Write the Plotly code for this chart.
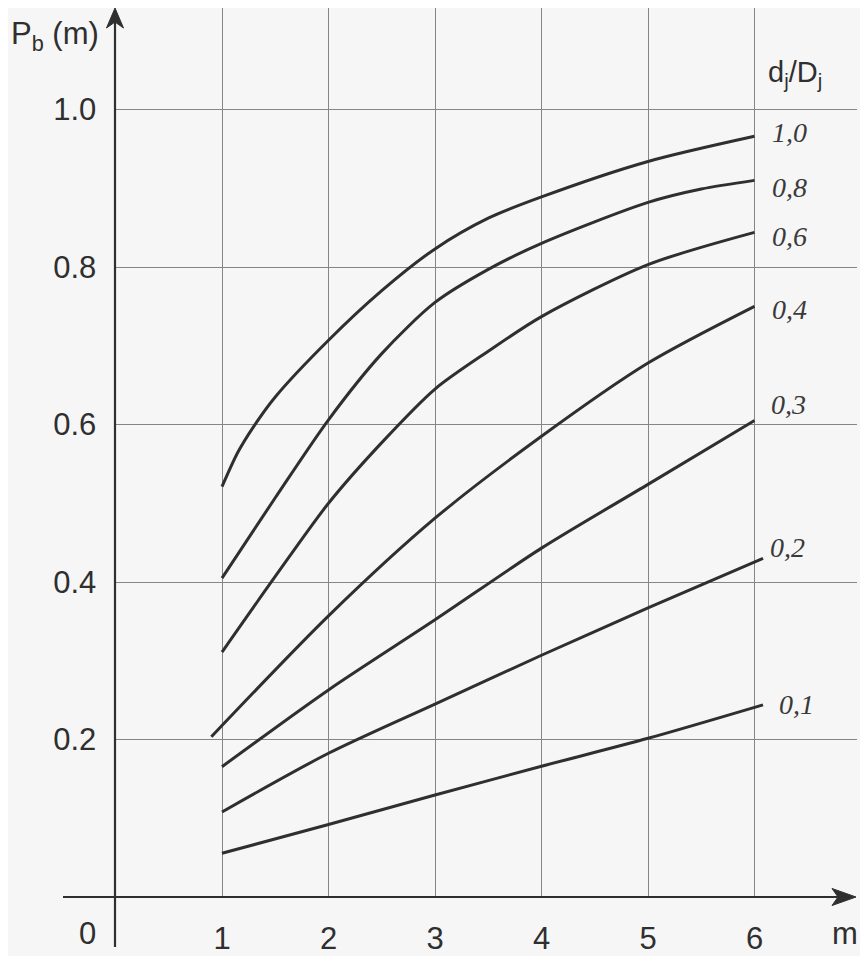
import plotly.graph_objects as go

# ---------------- data ----------------
ratio_labels = ["1,0", "0,8", "0,6", "0,4", "0,3", "0,2", "0,1"]

m_10 = [1.0, 1.15, 1.3, 1.5, 2.0, 2.5, 3.0, 3.5, 4.0, 5.0, 6.0]
p_10 = [0.521, 0.565, 0.598, 0.635, 0.707, 0.770, 0.823, 0.862, 0.889, 0.934, 0.966]

m_08 = [1.0, 1.5, 2.0, 2.5, 3.0, 3.5, 4.0, 5.0, 5.5, 6.0]
p_08 = [0.405, 0.507, 0.606, 0.690, 0.755, 0.797, 0.830, 0.882, 0.899, 0.910]

m_06 = [1.0, 1.5, 2.0, 2.5, 3.0, 3.5, 4.0, 5.0, 6.0]
p_06 = [0.311, 0.407, 0.500, 0.577, 0.645, 0.693, 0.737, 0.803, 0.844]

m_04 = [0.9, 2.0, 3.0, 4.0, 5.0, 6.0]
p_04 = [0.2035, 0.357, 0.481, 0.585, 0.678, 0.750]

m_03 = [1.0, 2.0, 3.0, 4.0, 5.0, 6.0]
p_03 = [0.1655, 0.263, 0.352, 0.443, 0.524, 0.605]

m_02 = [1.0, 2.0, 3.0, 4.0, 5.0, 6.08]
p_02 = [0.108, 0.1825, 0.245, 0.307, 0.367, 0.430]

m_01 = [1.0, 2.0, 3.0, 4.0, 5.0, 6.08]
p_01 = [0.0555, 0.092, 0.1295, 0.166, 0.2015, 0.244]

x_ticks = [1, 2, 3, 4, 5, 6]
y_ticks = [0.2, 0.4, 0.6, 0.8, 1.0]
y_tick_text = ["0.2", "0.4", "0.6", "0.8", "1.0"]

series = [(m_10, p_10), (m_08, p_08), (m_06, p_06), (m_04, p_04),
          (m_03, p_03), (m_02, p_02), (m_01, p_01)]

# ---------------- styling / geometry ----------------
OFF = 8                            # page body margin
W, H = 868 - OFF, 956 - OFF
X0_PX, X_UNIT = 115.5, 106.5       # page pixel of m=0, pixels per unit
Y0_PX, Y_UNIT = 897.0, 787.5       # page pixel of P=0, pixels per unit
X_RIGHT_PX = 857.0
INK = "#2f2f2f"
GRID = "#858585"
BG = "#f6f6f6"
SANS = "Liberation Sans, Arial, sans-serif"
SERIF = "Liberation Serif, Times New Roman, serif"

def px(x):
    return (x - OFF) / W

def py(y):
    return (H - (y - OFF)) / H

fig = go.Figure()
for (mx, pv), lab in zip(series, ratio_labels):
    fig.add_trace(go.Scatter(x=mx, y=pv, mode="lines", name=lab,
                             line=dict(color=INK, width=3, shape="spline", smoothing=0.8),
                             hoverinfo="skip", showlegend=False))

# label offsets (pixels) relative to curve end
label_shift = [(15, 4), (15, -7), (15, -4), (15, -3), (14, 16), (5, 11), (14, 0)]
annotations = []
for (mx, pv), lab, (dx, dy) in zip(series, ratio_labels, label_shift):
    annotations.append(dict(x=mx[-1], y=pv[-1], xref="x", yref="y", text="<i>%s</i>" % lab,
                            showarrow=False, xanchor="left", yanchor="middle",
                            xshift=dx, yshift=dy,
                            font=dict(family=SERIF, size=28, color="#3a3a3a")))

annotations += [
    dict(x=px(9), y=py(36), xref="paper", yref="paper", text="P<sub>b</sub> (m)",
         showarrow=False, xanchor="left", yanchor="middle",
         font=dict(family=SANS, size=31, color=INK)),
    dict(x=px(766), y=py(74), xref="paper", yref="paper", text="d<sub>j</sub>/D<sub>j</sub>",
         showarrow=False, xanchor="left", yanchor="middle",
         font=dict(family=SANS, size=29, color=INK)),
    dict(x=px(87), y=py(933), xref="paper", yref="paper", text="0",
         showarrow=False, xanchor="center", yanchor="middle",
         font=dict(family=SANS, size=31, color=INK)),
    dict(x=px(845), y=py(933), xref="paper", yref="paper", text="m",
         showarrow=False, xanchor="center", yanchor="middle",
         font=dict(family=SANS, size=31, color=INK)),
]

shapes = [
    # x axis line
    dict(type="line", xref="paper", yref="paper", x0=px(63), x1=px(840), y0=py(Y0_PX), y1=py(Y0_PX),
         line=dict(color=INK, width=2.2)),
    # y axis line
    dict(type="line", xref="paper", yref="paper", x0=px(X0_PX - 0.5), x1=px(X0_PX - 0.5), y0=py(947), y1=py(22),
         line=dict(color=INK, width=2.2)),
    # arrow heads
    dict(type="path", xref="paper", yref="paper",
         path="M %f,%f L %f,%f L %f,%f L %f,%f Z" % (px(856), py(897), px(832), py(888.5),
                                                     px(838), py(897), px(832), py(905.5)),
         fillcolor=INK, line=dict(color=INK, width=1)),
    dict(type="path", xref="paper", yref="paper",
         path="M %f,%f L %f,%f L %f,%f L %f,%f Z" % (px(115), py(8), px(106.5), py(28),
                                                     px(115), py(22), px(123.5), py(28)),
         fillcolor=INK, line=dict(color=INK, width=1)),
]

fig.update_layout(
    width=W, height=H,
    margin=dict(l=0, r=0, t=0, b=0),
    paper_bgcolor=BG, plot_bgcolor=BG,
    showlegend=False,
    annotations=annotations,
    shapes=shapes,
    xaxis=dict(domain=[px(X0_PX), px(X_RIGHT_PX)],
               range=[0, (X_RIGHT_PX - X0_PX) / X_UNIT],
               tickvals=x_ticks, ticktext=[str(v) for v in x_ticks],
               ticks="outside", ticklen=14, tickcolor="rgba(0,0,0,0)",
               tickfont=dict(family=SANS, size=31, color=INK),
               showgrid=True, gridcolor=GRID, gridwidth=1.1,
               zeroline=False, showline=False, fixedrange=True),
    yaxis=dict(domain=[py(Y0_PX), 1.0],
               range=[0, (Y0_PX - OFF) / Y_UNIT],
               tickvals=y_ticks, ticktext=y_tick_text,
               ticks="outside", ticklen=12, tickcolor="rgba(0,0,0,0)",
               tickfont=dict(family=SANS, size=31, color=INK),
               showgrid=True, gridcolor=GRID, gridwidth=1.1,
               zeroline=False, showline=False, fixedrange=True),
)

fig.write_html("out.html")
